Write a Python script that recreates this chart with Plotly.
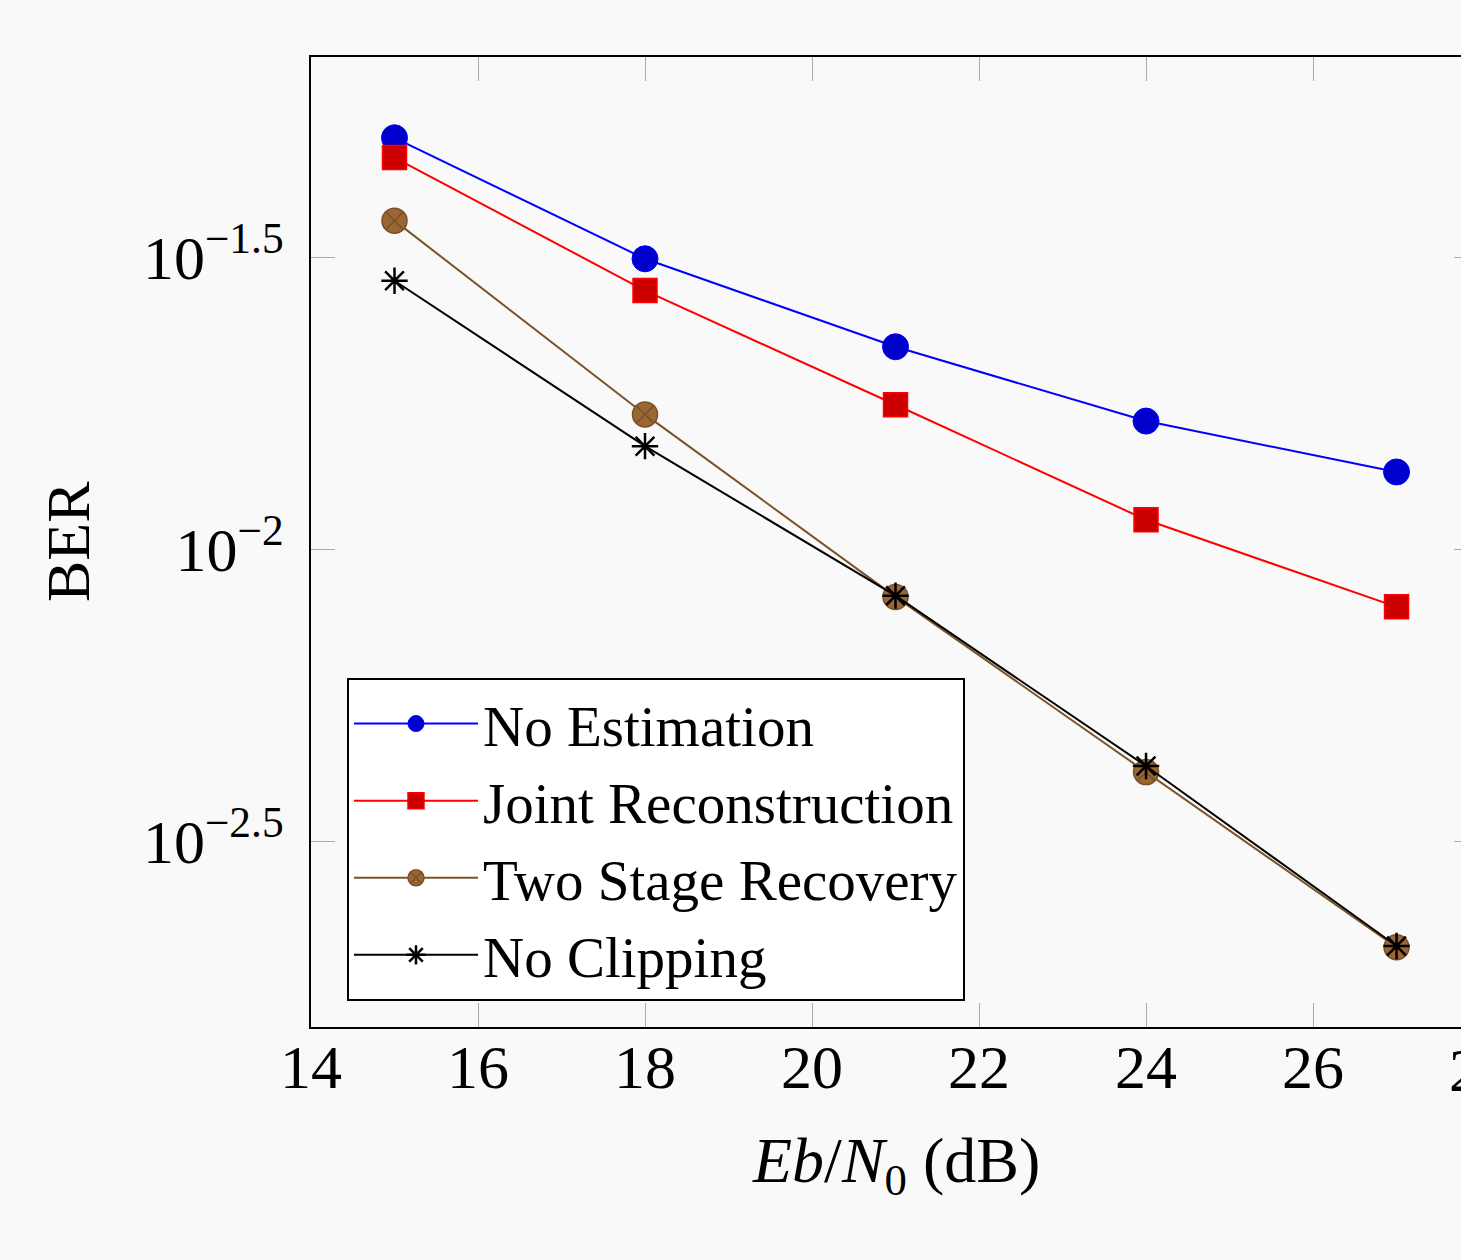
import plotly.graph_objects as go

ebn0 = [15, 18, 21, 24, 27]
ber_no_est = [0.0506, 0.0314, 0.0222, 0.01656, 0.01355]
ber_joint = [0.0468, 0.0277, 0.01766, 0.01122, 0.00796]
ber_two_stage = [0.0365, 0.0170, 0.00828, 0.00415, 0.00208]
ber_no_clip = [0.0288, 0.0150, 0.00832, 0.00425, 0.00209]

x_ticks = [14, 16, 18, 20, 22, 24, 26]
y_tick_exps = [-2.5, -2.0, -1.5]
y_tick_text = ["10<sup>\u22122.5</sup>", "10<sup>\u22122</sup>", "10<sup>\u22121.5</sup>"]

FONT = "Liberation Serif"
BG = "#f9f9f9"

fig = go.Figure()
fig.add_trace(go.Scatter(x=ebn0, y=ber_no_est, mode="lines+markers", name="No Estimation",
                         line=dict(color="#0000ff", width=2),
                         marker=dict(symbol="circle", size=26, color="#0000cc",
                                     line=dict(color="#0000ff", width=1))))
fig.add_trace(go.Scatter(x=ebn0, y=ber_joint, mode="lines+markers", name="Joint Reconstruction",
                         line=dict(color="#ff0000", width=2),
                         marker=dict(symbol="square", size=24, color="#cc0000",
                                     line=dict(color="#ff0000", width=1.5))))
fig.add_trace(go.Scatter(x=ebn0, y=ber_two_stage, mode="lines+markers", name="Two Stage Recovery",
                         line=dict(color="#7a5428", width=2),
                         marker=dict(symbol="circle-x", size=25, color="#9a6634",
                                     line=dict(color="#7a5028", width=1.5))))
fig.add_trace(go.Scatter(x=ebn0, y=ber_no_clip, mode="lines+markers", name="No Clipping",
                         line=dict(color="#000000", width=2),
                         marker=dict(symbol="asterisk-open", size=22,
                                     line=dict(color="#000000", width=2.5))))
# right-side tick marks (secondary axis overlay, no data)
fig.add_trace(go.Scatter(x=[], y=[], yaxis="y2", showlegend=False, hoverinfo="skip"))

yr = [-2.8185, -1.1575]
fig.update_layout(
    width=1461, height=1260,
    margin=dict(l=311, r=0, t=57, b=233),
    paper_bgcolor=BG, plot_bgcolor=BG,
    font=dict(family=FONT, size=62, color="black"),
    showlegend=True,
    xaxis=dict(range=[14, 27.772], tickvals=x_ticks, ticks="inside", ticklen=24,
               tickcolor="#aaaaaa", tickwidth=1, showgrid=False, zeroline=False,
               showline=True, linecolor="black", linewidth=2, mirror="ticks",
               tickfont=dict(family=FONT, size=62), ticklabelstandoff=-15),
    yaxis=dict(type="log", range=yr, tickvals=[10 ** e for e in y_tick_exps],
               ticktext=y_tick_text, ticks="inside", ticklen=24, tickcolor="#aaaaaa",
               tickwidth=1, showgrid=False, zeroline=False, showline=True,
               linecolor="black", linewidth=2, tickfont=dict(family=FONT, size=62),
               ticklabelstandoff=13),
    yaxis2=dict(type="log", range=yr, overlaying="y", side="right", anchor="x",
                tickvals=[10 ** e for e in y_tick_exps], ticks="inside", ticklen=7,
                tickcolor="#aaaaaa", tickwidth=1, showticklabels=False,
                showgrid=False, zeroline=False, showline=False),
    legend=dict(x=0.0313, y=0.3598, xanchor="left", yanchor="top",
                bgcolor="white", bordercolor="black", borderwidth=2,
                font=dict(family=FONT, size=57), itemwidth=124, tracegroupgap=0),
    annotations=[
        dict(text="<i>Eb</i>/<i>N</i><sub>0</sub> (dB)", xref="paper", yref="paper",
             x=0.5083, y=-0.1423, xanchor="center", yanchor="middle", showarrow=False,
             font=dict(family=FONT, size=64)),
        dict(text="BER", xref="paper", yref="paper", x=-0.2113, y=0.5, textangle=-90,
             xanchor="center", yanchor="middle", showarrow=False,
             font=dict(family=FONT, size=62)),
        dict(text="28", xref="paper", yref="paper", x=1.01652, y=0, yanchor="top",
             xanchor="center", yshift=-7, showarrow=False, font=dict(family=FONT, size=62)),
    ],
)

fig.write_html("out.html", config={"displayModeBar": False},
               post_script="document.body.style.margin='0';document.body.style.background='#f9f9f9';")
